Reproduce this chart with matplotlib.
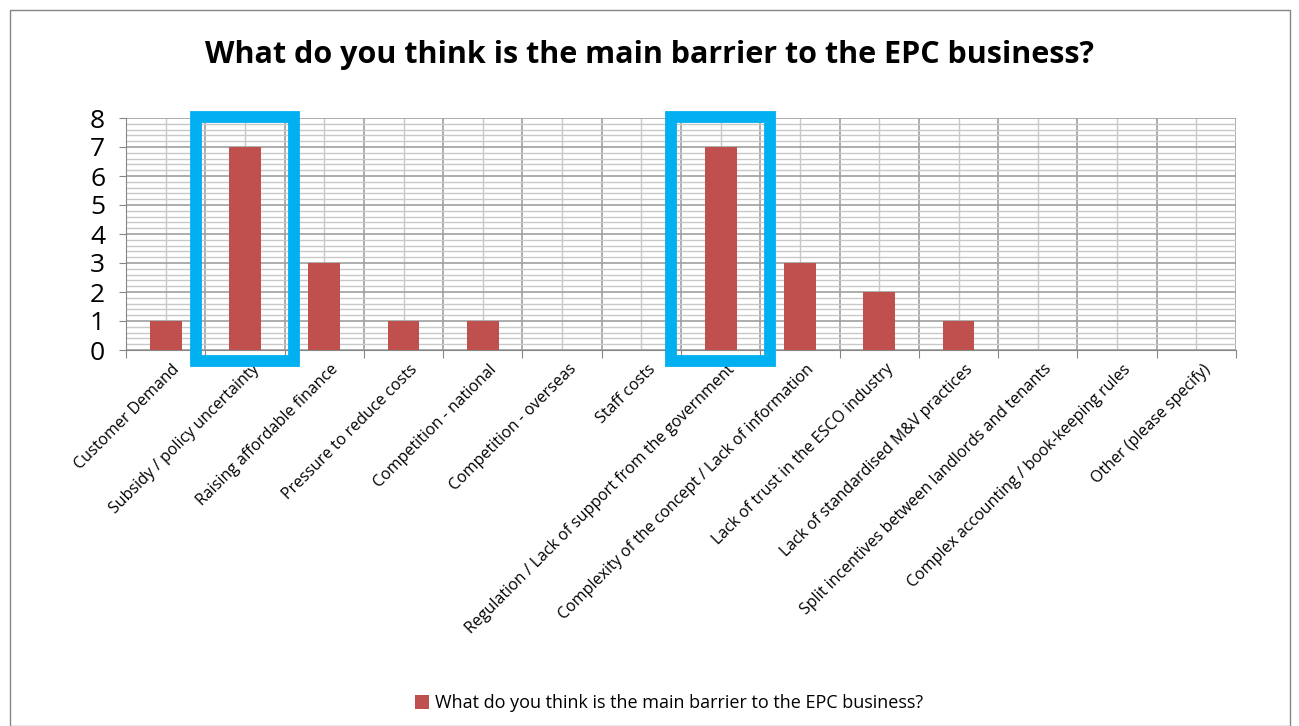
import matplotlib
matplotlib.use("Agg")
import matplotlib.pyplot as plt
from matplotlib.patches import Rectangle
from matplotlib.ticker import MultipleLocator
from matplotlib.transforms import ScaledTranslation
import numpy as np

categories = ["Customer Demand", "Subsidy / policy uncertainty", "Raising affordable finance",
              "Pressure to reduce costs", "Competition - national", "Competition - overseas",
              "Staff costs", "Regulation / Lack of support from the government",
              "Complexity of the concept / Lack of information", "Lack of trust in the ESCO industry",
              "Lack of standardised M&V practices", "Split incentives between landlords and tenants",
              "Complex accounting / book-keeping rules", "Other (please specify)"]
values = [1, 7, 3, 1, 1, 0, 0, 7, 3, 2, 1, 0, 0, 0]
highlighted = [1, 7]
series_name = "What do you think is the main barrier to the EPC business?"

plt.rcParams['font.family'] = ['Open Sans', 'DejaVu Sans']
fig = plt.figure(figsize=(12.99, 7.26), dpi=100)
ax = fig.add_axes([126/1299, 1-350/726, (1236-126)/1299, (350-118)/726])

x = np.arange(len(categories))
ax.bar(x, values, width=0.4, color="#C0504D", zorder=3, label=series_name)
ax.set_xlim(-0.5, len(categories) - 0.5)
ax.set_ylim(0, 8)
ax.yaxis.set_major_locator(MultipleLocator(1))
ax.yaxis.set_minor_locator(MultipleLocator(0.2))
ax.set_xticks(np.arange(-0.5, len(categories), 1.0))
ax.set_xticklabels([])
ax.set_xticks(x, minor=True)
ax.set_xticklabels(categories, minor=True, rotation=45, ha="right", va="top",
                   rotation_mode="anchor", fontsize=11.5)
ax.tick_params(axis="x", which="minor", length=0, pad=6)
offset = ScaledTranslation(6/100, -3/100, fig.dpi_scale_trans)
for lbl in ax.get_xticklabels(minor=True):
    lbl.set_transform(lbl.get_transform() + offset)
ax.tick_params(axis="x", which="major", length=6, color="#868686")
ax.tick_params(axis="y", which="major", length=5, color="#868686", labelsize=19, pad=10)
ax.tick_params(axis="y", which="minor", length=0)
ax.grid(True, which="major", axis="both", color="#A0A0A0", linewidth=1.2, zorder=0)
ax.grid(True, which="minor", axis="both", color="#C8C8C8", linewidth=1.0, zorder=0)
for s in ["top", "right"]:
    ax.spines[s].set_visible(False)
ax.spines["left"].set_color("#868686")
ax.spines["bottom"].set_color("#868686")
ax.set_axisbelow(True)

for h in highlighted:
    r = Rectangle((h - 0.62, -0.38), 1.24, 8.43, fill=False, edgecolor="#00B0F0",
                  linewidth=8.5, zorder=5, clip_on=False)
    ax.add_patch(r)

fig.text(0.5, 1-55/726, "What do you think is the main barrier to the EPC business?",
         ha="center", va="center", fontsize=22, fontweight="bold")

fig.legend(loc="center", bbox_to_anchor=(0.515, 1-703/726), frameon=False, fontsize=13,
           handlelength=0.8, handleheight=0.8, handletextpad=0.3)

fig.patches.append(Rectangle((10/1299, 0), 1280/1299, 1-10/726, transform=fig.transFigure,
                             fill=False, edgecolor="#868686", linewidth=1))
fig.savefig("out.png", dpi=100)
